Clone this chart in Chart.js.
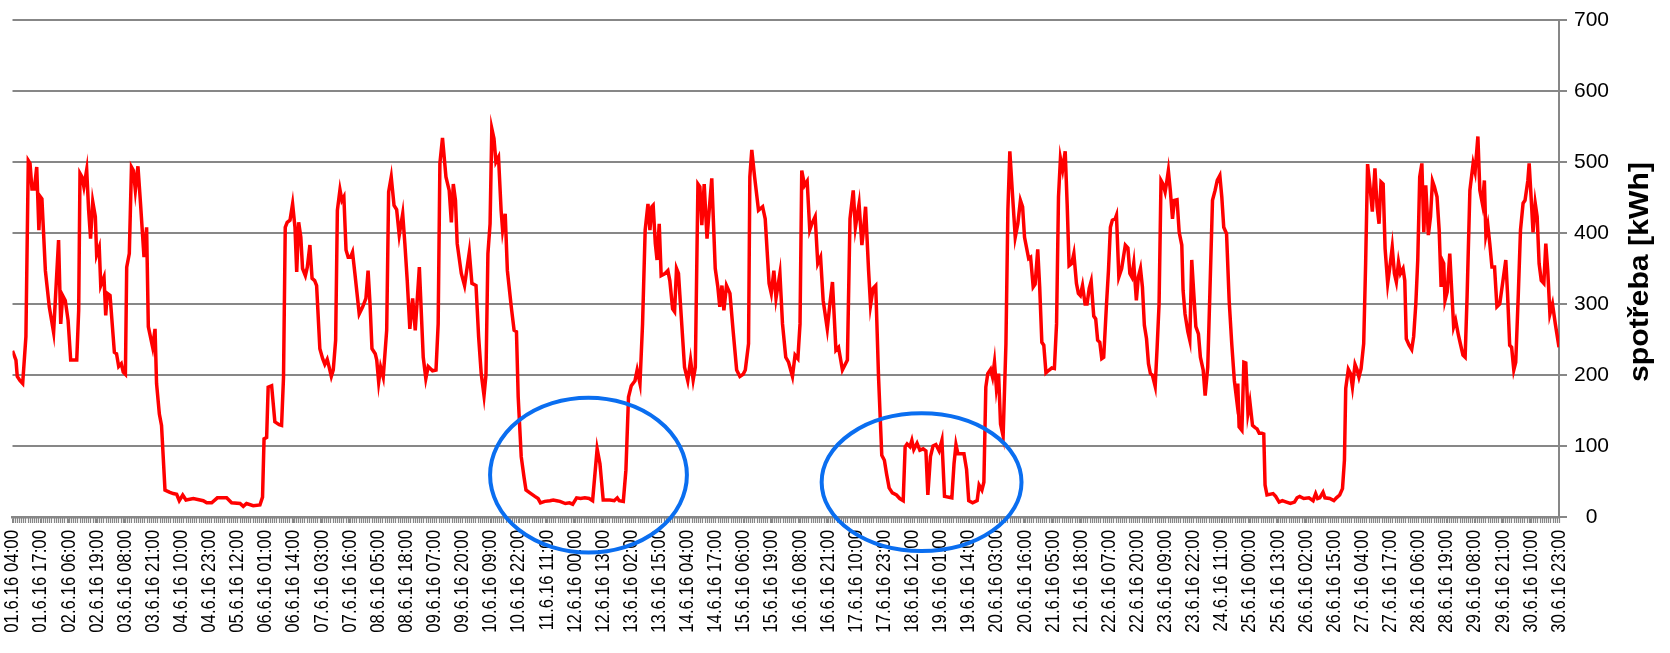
<!DOCTYPE html>
<html>
<head>
<meta charset="utf-8">
<script src="https://cdn.jsdelivr.net/npm/chart.js@4.4.1/dist/chart.umd.min.js"></script>
<style>
  html, body { margin: 0; padding: 0; background: #fff; }
</style>
</head>
<body>
<canvas id="spotrebaChart" width="1670" height="653"></canvas>
<script>
// x axis labels, one every 13 hours from 01.6.16 04:00
const tickLabels = [
  '01.6.16 04:00', '01.6.16 17:00', '02.6.16 06:00', '02.6.16 19:00', '03.6.16 08:00', '03.6.16 21:00',
  '04.6.16 10:00', '04.6.16 23:00', '05.6.16 12:00', '06.6.16 01:00', '06.6.16 14:00', '07.6.16 03:00',
  '07.6.16 16:00', '08.6.16 05:00', '08.6.16 18:00', '09.6.16 07:00', '09.6.16 20:00', '10.6.16 09:00',
  '10.6.16 22:00', '11.6.16 11:00', '12.6.16 00:00', '12.6.16 13:00', '13.6.16 02:00', '13.6.16 15:00',
  '14.6.16 04:00', '14.6.16 17:00', '15.6.16 06:00', '15.6.16 19:00', '16.6.16 08:00', '16.6.16 21:00',
  '17.6.16 10:00', '17.6.16 23:00', '18.6.16 12:00', '19.6.16 01:00', '19.6.16 14:00', '20.6.16 03:00',
  '20.6.16 16:00', '21.6.16 05:00', '21.6.16 18:00', '22.6.16 07:00', '22.6.16 20:00', '23.6.16 09:00',
  '23.6.16 22:00', '24.6.16 11:00', '25.6.16 00:00', '25.6.16 13:00', '26.6.16 02:00', '26.6.16 15:00',
  '27.6.16 04:00', '27.6.16 17:00', '28.6.16 06:00', '28.6.16 19:00', '29.6.16 08:00', '29.6.16 21:00',
  '30.6.16 10:00', '30.6.16 23:00'
];
const labelStepHours = 13;
const totalHours = 715;
const yTicks = [0, 100, 200, 300, 400, 500, 600, 700];

// [hours since 01.6.16 04:00, consumption kWh]
const readings = [
  [0, 234], [1.6, 221], [2.2, 198], [3.5, 192], [4.7, 188], [6.2, 254], [7.3, 502], [8.1, 498], [9.0, 462], [10.1, 462],
  [11.2, 493], [12.2, 404], [12.9, 451], [13.6, 448], [15.2, 347], [17.0, 296], [19.0, 260], [21.3, 390], [22.3, 272], [23.2, 312],
  [24.4, 305], [25.7, 277], [26.9, 221], [28.4, 221], [29.7, 221], [30.6, 291], [31.2, 484], [32.1, 479], [33.0, 465], [34.3, 489],
  [35.2, 432], [36.1, 392], [37.1, 444], [38.3, 423], [38.9, 369], [40.1, 380], [40.8, 326], [42.3, 338], [43.1, 284], [43.8, 315],
  [45.1, 312], [47.1, 232], [48.1, 230], [49.1, 212], [50.3, 216], [51.2, 204], [52.2, 201], [52.8, 352], [54.0, 371], [55.0, 493],
  [55.9, 488], [56.8, 460], [58.0, 494], [59.2, 441], [60.8, 366], [62.0, 408], [62.8, 268], [64.8, 239], [65.9, 265], [66.6, 188],
  [67.9, 145], [68.9, 129], [70.5, 38], [72.5, 35], [74.3, 33], [75.9, 32], [77.1, 23], [78.7, 31], [80.2, 24], [83.6, 26],
  [88.2, 23], [89.8, 20], [92.1, 20], [94.7, 27], [99.0, 27], [101.3, 20], [105.2, 19], [106.7, 15], [108.2, 19], [111.3, 16],
  [114.4, 17], [115.6, 28], [116.3, 110], [117.5, 112], [118.2, 183], [119.8, 185], [121.3, 134], [123.3, 130], [124.4, 129], [125.3, 197],
  [126.1, 408], [127.0, 415], [128.3, 418], [129.5, 441], [130.6, 408], [131.4, 345], [132.3, 415], [133.3, 394], [134.1, 350], [135.4, 340],
  [136.3, 352], [137.5, 383], [138.5, 336], [139.7, 333], [140.6, 326], [142.1, 237], [143.4, 223], [144.4, 215], [145.5, 222], [146.4, 211],
  [147.4, 198], [148.3, 207], [149.4, 249], [150.2, 432], [151.4, 461], [152.3, 446], [153.2, 451], [154.2, 376], [155.2, 366], [156.3, 366],
  [157.2, 373], [158.3, 343], [160.3, 286], [161.9, 296], [163.4, 308], [164.4, 347], [165.3, 300], [166.2, 237], [167.7, 230], [168.4, 221],
  [169.3, 190], [170.2, 211], [171.4, 197], [173.0, 263], [173.9, 458], [175.1, 479], [176.4, 439], [177.6, 433], [178.8, 397], [180.4, 427],
  [181.4, 385], [182.5, 333], [183.7, 265], [185.0, 308], [186.2, 263], [188.1, 352], [189.9, 225], [191.1, 195], [192.2, 212], [194.2, 206],
  [195.8, 207], [196.8, 272], [197.6, 498], [198.8, 534], [200.4, 479], [201.9, 460], [202.9, 415], [203.8, 469], [204.8, 446], [205.6, 385],
  [207.5, 343], [209.0, 326], [211.2, 373], [212.4, 329], [214.3, 326], [215.5, 254], [216.7, 202], [218.0, 171], [218.9, 200], [219.8, 371],
  [220.8, 413], [221.6, 547], [222.6, 533], [223.5, 500], [224.7, 507], [225.9, 432], [226.6, 404], [227.8, 427], [228.8, 347], [230.6, 296],
  [231.9, 263], [233.0, 261], [233.8, 169], [235.2, 85], [236.5, 56], [237.4, 38], [239.2, 34], [241.5, 29], [243.0, 26], [244.1, 20],
  [246.1, 22], [248.5, 23], [250.0, 24], [251.6, 23], [253.1, 22], [255.6, 19], [257.5, 20], [259.0, 18], [260.8, 27], [262.6, 26],
  [264.6, 27], [266.6, 26], [268.2, 23], [270.3, 96], [271.6, 75], [273.1, 24], [276.2, 24], [278.2, 23], [279.6, 27], [280.5, 23],
  [282.4, 22], [283.6, 66], [284.8, 169], [286.1, 185], [287.8, 192], [288.8, 207], [290.1, 188], [291.3, 272], [292.5, 404], [293.8, 441],
  [294.7, 404], [295.6, 437], [296.2, 439], [297.2, 385], [298.0, 362], [299.0, 413], [299.9, 340], [301.7, 343], [303.0, 347], [303.9, 333],
  [305.2, 293], [306.1, 289], [307.0, 350], [307.9, 343], [309.2, 282], [310.7, 211], [312.2, 192], [313.5, 221], [314.7, 193], [315.7, 211],
  [316.9, 469], [317.8, 465], [318.7, 411], [319.8, 469], [321.1, 392], [322.1, 432], [323.3, 477], [324.9, 350], [326.1, 324], [327.0, 296],
  [328.0, 326], [328.9, 291], [330.1, 326], [331.7, 315], [333.2, 261], [334.8, 207], [336.3, 198], [337.8, 201], [338.8, 207], [340.3, 244],
  [340.9, 479], [341.8, 517], [343.1, 479], [344.9, 432], [346.8, 437], [348.0, 420], [349.8, 329], [350.8, 315], [352.0, 347], [353.0, 308],
  [354.8, 343], [356.0, 272], [357.5, 225], [358.8, 218], [360.6, 198], [361.8, 228], [363.1, 223], [364.1, 272], [364.9, 488], [366.2, 467],
  [367.4, 473], [368.6, 404], [369.6, 413], [371.1, 423], [372.3, 357], [373.6, 366], [374.8, 305], [376.7, 265], [377.9, 300], [379.1, 331],
  [380.7, 235], [381.9, 239], [383.7, 207], [386.0, 221], [387.2, 420], [388.7, 460], [389.7, 408], [391.4, 441], [392.7, 383], [393.6, 408],
  [394.4, 437], [395.8, 347], [396.7, 298], [397.9, 322], [399.1, 326], [400.4, 197], [401.9, 87], [403.1, 80], [404.1, 61], [405.3, 41],
  [406.8, 34], [408.7, 31], [410.2, 26], [411.8, 23], [412.7, 99], [413.6, 103], [414.9, 99], [415.8, 108], [416.7, 95], [418.2, 104],
  [419.5, 94], [421.0, 96], [422.3, 93], [423.2, 31], [424.4, 85], [425.6, 100], [426.9, 102], [428.4, 93], [429.7, 108], [430.9, 29],
  [434.3, 27], [435.3, 75], [436.2, 102], [437.1, 89], [439.9, 89], [441.1, 67], [442.1, 23], [443.9, 20], [446.0, 23], [446.9, 45],
  [448.2, 38], [449.1, 49], [450.0, 183], [450.9, 202], [452.2, 208], [453.1, 197], [454.0, 218], [454.9, 181], [455.9, 202], [456.8, 131],
  [458.0, 114], [459.3, 244], [460.2, 432], [461.1, 515], [462.4, 451], [463.6, 394], [464.8, 413], [466.0, 446], [467.0, 437], [467.9, 394],
  [469.8, 364], [470.7, 366], [471.9, 324], [472.8, 328], [474.0, 377], [474.9, 324], [475.9, 246], [476.8, 242], [477.8, 203], [479.3, 207],
  [480.5, 210], [481.7, 209], [482.7, 272], [483.6, 451], [484.5, 505], [485.5, 489], [486.7, 515], [487.6, 441], [488.5, 354], [489.7, 357],
  [490.7, 371], [491.9, 329], [492.8, 315], [493.7, 312], [494.7, 326], [495.9, 300], [496.8, 300], [497.8, 322], [498.7, 332], [499.9, 283],
  [500.8, 279], [501.7, 249], [502.7, 246], [503.6, 223], [504.5, 225], [505.8, 300], [506.7, 347], [507.6, 408], [508.5, 418], [509.8, 420],
  [510.4, 425], [511.5, 338], [512.8, 350], [514.5, 383], [515.7, 379], [516.6, 343], [517.5, 338], [518.4, 357], [519.6, 305], [520.5, 338],
  [521.5, 350], [522.4, 324], [523.3, 270], [524.3, 251], [525.2, 216], [526.1, 202], [527.0, 200], [528.3, 184], [529.2, 239], [530.1, 300],
  [531.0, 474], [531.9, 469], [532.9, 458], [533.5, 469], [534.4, 488], [535.3, 460], [536.3, 420], [537.2, 446], [538.4, 447], [539.4, 401],
  [540.6, 383], [541.2, 319], [542.1, 286], [543.4, 261], [544.3, 249], [545.2, 362], [546.2, 312], [547.1, 268], [548.3, 258], [549.2, 225],
  [550.5, 207], [551.4, 171], [552.6, 211], [553.6, 317], [554.8, 446], [556.0, 460], [557.0, 474], [558.2, 481], [559.1, 451], [560.0, 408],
  [561.3, 399], [562.5, 305], [563.7, 244], [564.9, 192], [565.9, 167], [566.5, 188], [567.1, 127], [568.4, 122], [569.3, 218], [570.2, 217],
  [571.2, 146], [572.1, 162], [573.3, 129], [574.5, 126], [575.4, 124], [576.4, 118], [577.6, 118], [578.5, 117], [579.1, 45], [580.0, 31],
  [582.8, 33], [584.0, 29], [585.6, 21], [587.1, 23], [589.0, 21], [590.8, 19], [592.7, 21], [593.9, 27], [595.1, 29], [597.0, 26],
  [599.4, 27], [601.3, 23], [602.5, 33], [603.4, 26], [604.4, 27], [605.9, 35], [606.8, 27], [609.0, 26], [610.9, 23], [612.1, 27],
  [613.6, 31], [614.9, 40], [615.8, 80], [616.4, 181], [617.6, 208], [618.6, 202], [619.5, 183], [620.7, 215], [621.6, 208], [622.5, 197],
  [623.5, 209], [624.7, 244], [625.6, 357], [626.5, 497], [627.5, 469], [628.7, 430], [629.9, 491], [630.9, 437], [631.8, 413], [632.7, 472],
  [633.7, 469], [634.6, 378], [635.8, 329], [637.0, 357], [637.9, 380], [638.9, 343], [639.8, 331], [640.8, 359], [641.7, 343], [642.9, 350],
  [643.7, 333], [644.4, 251], [645.7, 242], [646.9, 236], [647.8, 254], [648.8, 300], [649.7, 362], [650.6, 479], [651.6, 498], [652.5, 401],
  [653.4, 467], [654.6, 397], [655.6, 423], [656.5, 473], [657.4, 465], [658.6, 451], [659.6, 404], [660.5, 324], [661.1, 361], [661.7, 357],
  [662.3, 305], [663.3, 317], [664.5, 371], [665.4, 319], [666.3, 268], [667.2, 277], [668.5, 256], [669.4, 244], [670.6, 228], [671.6, 225],
  [672.5, 310], [673.8, 460], [675.3, 498], [676.2, 486], [677.5, 536], [678.4, 460], [679.6, 441], [680.5, 474], [681.2, 397], [682.1, 411],
  [683.0, 385], [684.0, 352], [685.2, 352], [686.3, 296], [687.6, 300], [689.1, 333], [690.4, 362], [691.2, 315], [692.2, 242], [693.1, 239],
  [694.1, 207], [695.0, 218], [696.2, 315], [697.2, 404], [698.4, 442], [699.3, 446], [700.6, 474], [701.2, 498], [702.1, 451], [703.0, 401],
  [704.0, 442], [704.9, 423], [705.8, 357], [706.8, 333], [708.0, 329], [708.9, 385], [709.8, 347], [710.8, 286], [712.0, 300], [713.3, 272],
  [715, 239]
];
const hours = readings.map(r => r[0]);
const kwh = readings.map(r => r[1]);

// the two hand-drawn rings, in data units (hours, kWh)
const rings = [
  { hour: 266.3, kwh: 59, halfHours: 45.5, halfKwh: 109 },
  { hour: 420.3, kwh: 49, halfHours: 46.2, halfKwh: 97 }
];

const gridGray = '#878787';
const labelFont = '"Liberation Sans", Arial, sans-serif';

// small tick for every hour below the x axis
const hourTicks = {
    id: 'hourTicks',
    afterDraw(chart) {
        const xs = chart.scales.x;
        const ctx = chart.ctx;
        const base = chart.chartArea.bottom;
        ctx.save();
        ctx.strokeStyle = gridGray;
        ctx.lineWidth = 1.2;
        ctx.beginPath();
        for (let h = 0; h <= totalHours; h++) {
            const px = Math.round(xs.getPixelForValue(h)) + 0.5;
            ctx.moveTo(px, base);
            ctx.lineTo(px, base + 6);
        }
        ctx.stroke();
        ctx.restore();
    }
};

// date labels, turned to read upwards and set a bit narrow like the original
const dateLabels = {
    id: 'dateLabels',
    afterDraw(chart) {
        const xs = chart.scales.x;
        const ctx = chart.ctx;
        const top = chart.chartArea.bottom + 13;
        ctx.save();
        ctx.fillStyle = '#000';
        ctx.font = '21px ' + labelFont;
        ctx.textAlign = 'right';
        ctx.textBaseline = 'middle';
        tickLabels.forEach((text, k) => {
            const px = xs.getPixelForValue(k * labelStepHours);
            ctx.save();
            ctx.translate(px, top);
            ctx.rotate(-Math.PI / 2);
            ctx.scale(0.8, 1);
            ctx.fillText(text, 0, 0);
            ctx.restore();
        });
        ctx.restore();
    }
};

const ringMarks = {
    id: 'ringMarks',
    afterDraw(chart) {
        const xs = chart.scales.x, ys = chart.scales.y;
        const ctx = chart.ctx;
        ctx.save();
        ctx.strokeStyle = '#0a6ef0';
        ctx.lineWidth = 4;
        rings.forEach(r => {
            const cx = xs.getPixelForValue(r.hour);
            const cy = ys.getPixelForValue(r.kwh);
            const rx = xs.getPixelForValue(r.hour + r.halfHours) - cx;
            const ry = cy - ys.getPixelForValue(r.kwh + r.halfKwh);
            ctx.beginPath();
            ctx.ellipse(cx, cy, rx, ry, 0, 0, Math.PI * 2);
            ctx.stroke();
        });
        ctx.restore();
    }
};

// y axis title, reading bottom to top, right of the tick labels
const yTitle = {
    id: 'yTitle',
    afterDraw(chart) {
        const ctx = chart.ctx;
        ctx.save();
        ctx.translate(chart.chartArea.right + 82, (chart.chartArea.top + chart.chartArea.bottom) / 2 + 3.5);
        ctx.rotate(-Math.PI / 2);
        ctx.scale(1.12, 1);
        ctx.font = 'bold 27px ' + labelFont;
        ctx.fillStyle = '#000';
        ctx.textAlign = 'center';
        ctx.textBaseline = 'middle';
        ctx.fillText('spotřeba [kWh]', 0, 0);
        ctx.restore();
    }
};

const ctx = document.getElementById('spotrebaChart').getContext('2d');
const spotrebaChart = new Chart(ctx, {
    type: 'line',
    data: {
        datasets: [{
            label: 'spotřeba',
            data: hours.map((h, i) => ({ x: h, y: kwh[i] })),
            borderColor: '#ff0000',
            borderWidth: 3.5,
            pointRadius: 0,
            tension: 0,
            fill: false
        }]
    },
    options: {
        responsive: false,
        animation: false,
        layout: {
            padding: { left: 12.5, right: 0, top: 20, bottom: 130 }
        },
        plugins: {
            legend: { display: false },
            tooltip: { enabled: false }
        },
        scales: {
            x: {
                type: 'linear',
                min: 0,
                max: totalHours,
                grid: {
                    drawOnChartArea: false,
                    color: gridGray,
                    tickLength: 6
                },
                border: { display: true, color: gridGray, width: 2.5 },
                ticks: {
                    display: false,
                    stepSize: labelStepHours,
                    autoSkip: false
                }
            },
            y: {
                position: 'right',
                min: yTicks[0],
                max: yTicks[yTicks.length - 1],
                afterFit: function (scale) {
                    scale.width = 111;
                    scale.paddingTop = 0;
                    scale.paddingBottom = 0;
                },
                grid: {
                    color: gridGray,
                    lineWidth: 2,
                    tickLength: 8
                },
                border: { display: true, color: gridGray, width: 2 },
                ticks: {
                    stepSize: 100,
                    padding: 7,
                    crossAlign: 'center',
                    color: '#000',
                    font: { family: labelFont, size: 21 }
                }
            }
        }
    },
    plugins: [hourTicks, dateLabels, ringMarks, yTitle]
});
</script>
</body>
</html>
